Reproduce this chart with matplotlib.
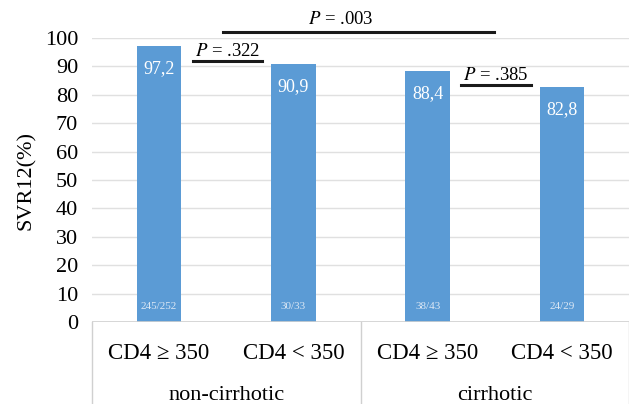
import matplotlib
matplotlib.use("Agg")
import matplotlib.pyplot as plt
from matplotlib.lines import Line2D

plt.rcParams['font.family'] = ['Liberation Serif', 'DejaVu Serif']
plt.rcParams['mathtext.fontset'] = 'stix'

categories = ["CD4 ≥ 350", "CD4 < 350", "CD4 ≥ 350", "CD4 < 350"]
groups = ["non-cirrhotic", "cirrhotic"]
svr = [97.2, 90.9, 88.4, 82.8]
value_labels = ["97,2", "90,9", "88,4", "82,8"]
counts = ["245/252", "30/33", "38/43", "24/29"]
pvals = [("P", ".322"), ("P", ".003"), ("P", ".385")]
yticks = [0, 10, 20, 30, 40, 50, 60, 70, 80, 90, 100]

W, H = 629, 404
fig = plt.figure(figsize=(W/100, H/100), dpi=100)
ax = fig.add_axes([92/W, 82/H, (629-92)/W, 284/H])

x = list(range(len(categories)))
bar_color = "#5b9bd5"
ax.bar(x, svr, width=0.33, color=bar_color, zorder=3)

ax.set_xlim(-0.5, 3.5)
ax.set_ylim(0, 100)
ax.set_yticks(yticks)
ax.set_yticklabels([str(t) for t in yticks], fontsize=16)
ax.tick_params(axis='y', length=0, pad=10)
ax.set_xticks(x)
ax.set_xticklabels(categories, fontsize=16.5)
ax.tick_params(axis='x', length=0, pad=15)
for s in ax.spines.values():
    s.set_visible(False)
for t in yticks[1:]:
    ax.axhline(t, color="#e0e0e0", lw=1, zorder=1)
ax.axhline(0, color="#d0d0d0", lw=1.2, zorder=4)
ax.set_ylabel("SVR12(%)", fontsize=16, labelpad=6)

# value labels inside bars
for xi, v, lab, c in zip(x, svr, value_labels, counts):
    ax.text(xi, v - 8, lab, ha='center', va='center', color='white', fontsize=13, zorder=5)
    ax.text(xi, 5.3, c, ha='center', va='center', color='#dce8f5', fontsize=8, zorder=5)

# group labels and separators
bt = ax.get_xaxis_transform()
for gi, g in enumerate(groups):
    ax.text(0.5 + 2*gi, -0.26, g, transform=bt, ha='center', va='center', fontsize=16, clip_on=False)
for sx in [-0.5, 1.5, 3.5]:
    ax.add_line(Line2D([sx, sx], [0, -0.3], transform=bt, color="#d0d0d0", lw=1, clip_on=False))

# p-value annotations
brackets = [
    (0.25, 0.77, 91.9, 0.51, 95.3),
    (0.474, 2.496, 102.1, 1.35, 106.4),
    (2.25, 2.77, 83.5, 2.51, 86.9),
]
for (p, val), (x0, x1, ly, tx, ty) in zip(pvals, brackets):
    ax.plot([x0, x1], [ly, ly], color="#1a1a1a", lw=2.2, clip_on=False, zorder=6)
    ax.text(tx, ty, f"${p}$ = {val}", ha='center', va='center', fontsize=13.5, clip_on=False)

fig.savefig("out.png", dpi=100)
